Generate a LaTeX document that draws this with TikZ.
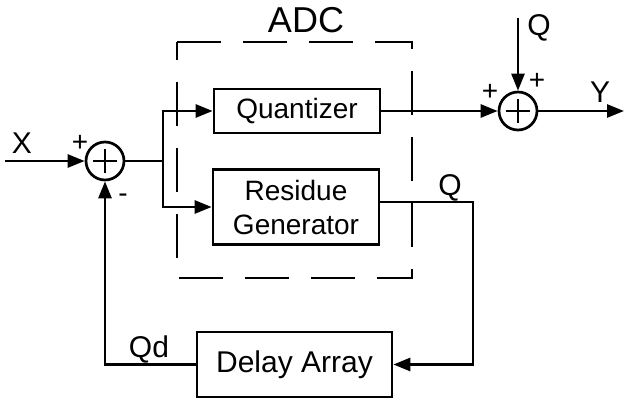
\documentclass[tikz,border=0pt]{standalone}
\usepackage{fontspec}
\setmainfont{Liberation Sans}
\usetikzlibrary{arrows.meta}
\begin{document}
\begin{tikzpicture}[
	x=1pt, y=-1pt, line width=2.7pt,
	>={Triangle[length=17pt,width=13pt]},
	block/.style={ draw, minimum width=166pt, minimum height=44pt, inner sep=0pt, font=\fontsize{28}{34}\selectfont },
	summer/.style={ circle, draw, minimum size=38pt, inner sep=0pt },
	lbl/.style={ font=\fontsize{30}{34}\selectfont, inner sep=0pt },
	sign/.style={ font=\fontsize{28}{30}\selectfont, inner sep=0pt }
]
\useasboundingbox (0,0) rectangle (626,398);

% ADC frame
\draw[dash pattern=on 44pt off 22pt]
  (177,42) -- (412,42) -- (412,278) -- (177,278) -- cycle;
\node at (306,20) [font=\fontsize{36}{40}\selectfont, inner sep=0pt] {ADC};

\node at (105,161) (s1) [summer] {};
\node at (518,111) (s2) [summer] {};
\draw ([xshift=-12pt]s1.center) -- ([xshift=12pt]s1.center);
\draw ([yshift=-12pt]s1.center) -- ([yshift=12pt]s1.center);
\draw ([xshift=-12pt]s2.center) -- ([xshift=12pt]s2.center);
\draw ([yshift=-12pt]s2.center) -- ([yshift=12pt]s2.center);

\node at (297,111) (quant) [block] {Quantizer};
\node at (296,207) (resid) [block, minimum height=75pt, align=center] {Residue\\Generator};
\node at (294.5,364.5) (delay) [block, minimum width=195pt, minimum height=65pt, font=\fontsize{30}{34}\selectfont] {Delay Array};

\coordinate (xin) at (5,161);
\coordinate (split) at (163,161);
\coordinate (qin) at (518,18);
\coordinate (yout) at (624,111);
\coordinate (corner) at (473,364.5);

\draw[->] (xin) -- (s1);
\draw (s1) -- (split);
\draw[->] (split) |- (quant.west);
\draw[->] (split) |- (resid.west);
\draw[->] (quant) -- (s2);
\draw[->] (qin) -- (s2);
\draw[->] (s2) -- (yout);
\draw[->] ([yshift=5pt]resid.east) -| (corner) -- (delay.east);
\draw[->] (delay.west) -| (s1.south);

\node at (22,143) (xlbl) [lbl] {X};
\node at (80,143) (xplus) [sign] {+};
\node at (123,198) (fbminus) [sign] {-};
\node at (539,28) (qlbl) [lbl] {Q};
\node at (537,81) (qplus) [sign] {+};
\node at (490,92) (qdplus) [sign] {+};
\node at (600,92) (ylbl) [lbl] {Y};
\node at (450,188) (rlbl) [lbl] {Q};
\node at (149,349) (qdlbl) [lbl] {Qd};

\end{tikzpicture}
\end{document}
